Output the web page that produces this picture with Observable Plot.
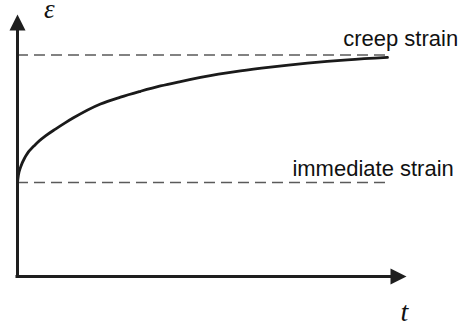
<!DOCTYPE html>
<html><head><meta charset="utf-8">
<script src="https://cdn.jsdelivr.net/npm/d3@7"></script>
<script src="https://cdn.jsdelivr.net/npm/@observablehq/plot@0.6"></script>
<style>body{margin:0;background:#fff}</style>
</head><body><div id="chart"></div>
<script>
// Strain curve (time t, strain ε)
const curveT = [0, 0.025, 0.081, 0.216, 0.485, 0.755, 1.024, 1.294, 1.509, 2.237, 2.776, 3.315, 3.854, 4.394, 4.933, 5.418, 6.011, 6.819, 7.817, 8.895, 9.973];
const curveStrain = [1.0, 1.078, 1.16, 1.278, 1.405, 1.495, 1.568, 1.637, 1.688, 1.835, 1.908, 1.97, 2.027, 2.074, 2.117, 2.152, 2.188, 2.228, 2.269, 2.304, 2.33];
// Reference levels (dashed lines) and their labels
const levelNames = ["creep strain", "immediate strain"];
const levelValues = [2.355, 1.0];
const levelLabelT = [8.78, 7.41];
const levelEndT = 9.92;
// Axis extents and titles
const axisEndT = 10.485;
const axisTopStrain = 2.787;
const xTitle = "t";
const yTitle = "ε";

const curve = curveT.map((t, i) => ({t, e: curveStrain[i]}));
const levels = levelNames.map((name, i) => ({name, value: levelValues[i], lt: levelLabelT[i]}));

const arrowHead = {
  draw(context, size) {
    const s = Math.sqrt(size / Math.PI) * 2;
    context.moveTo(0, 0);
    context.lineTo(-s / 2, s);
    context.lineTo(s / 2, s);
    context.closePath();
  }
};

const axisColor = "#1e1e1e";
const labelFont = "'Liberation Sans', Arial, sans-serif";
const mathFont = "'Liberation Serif', 'Times New Roman', serif";

const chart = Plot.plot({
  width: 458,
  height: 327,
  margin: 0,
  x: {domain: [-0.458, 11.887], axis: null},
  y: {domain: [-0.5426, 2.936], axis: null},
  marks: [
    Plot.ruleY(levels, {y: "value", x1: 0, x2: levelEndT, stroke: "#5a5a5a", strokeWidth: 1.5, strokeDasharray: "11,6"}),
    Plot.line(curve, {x: "t", y: "e", curve: "monotone-x", stroke: "#1a1a1a", strokeWidth: 2.8}),
    Plot.ruleX([0], {y1: 0, y2: axisTopStrain - 0.16, stroke: axisColor, strokeWidth: 3, strokeLinecap: "square"}),
    Plot.ruleY([0], {x1: 0, x2: axisEndT - 0.3, stroke: axisColor, strokeWidth: 3, strokeLinecap: "square"}),
    Plot.dot([{t: 0, e: axisTopStrain}], {x: "t", y: "e", symbol: arrowHead, r: 8, fill: axisColor, stroke: "none"}),
    Plot.dot([{t: axisEndT, e: 0}], {x: "t", y: "e", symbol: arrowHead, r: 8, rotate: 90, fill: axisColor, stroke: "none"}),
    Plot.text([levels[0]], {x: "lt", y: "value", text: "name", textAnchor: "start", dy: -16, fontSize: 22, fontFamily: labelFont, fill: "#111"}),
    Plot.text([levels[1]], {x: "lt", y: "value", text: "name", textAnchor: "start", dy: -14, fontSize: 22, fontFamily: labelFont, fill: "#111"}),
    Plot.text([{t: 0.86, e: 2.845}], {x: "t", y: "e", text: () => yTitle, fontSize: 27, fontStyle: "italic", fontFamily: mathFont, fill: "#111"}),
    Plot.text([{t: 10.43, e: -0.383}], {x: "t", y: "e", text: () => xTitle, fontSize: 28, fontStyle: "italic", fontFamily: mathFont, fill: "#111"})
  ]
});
document.getElementById("chart").appendChild(chart);
</script>
</body></html>
